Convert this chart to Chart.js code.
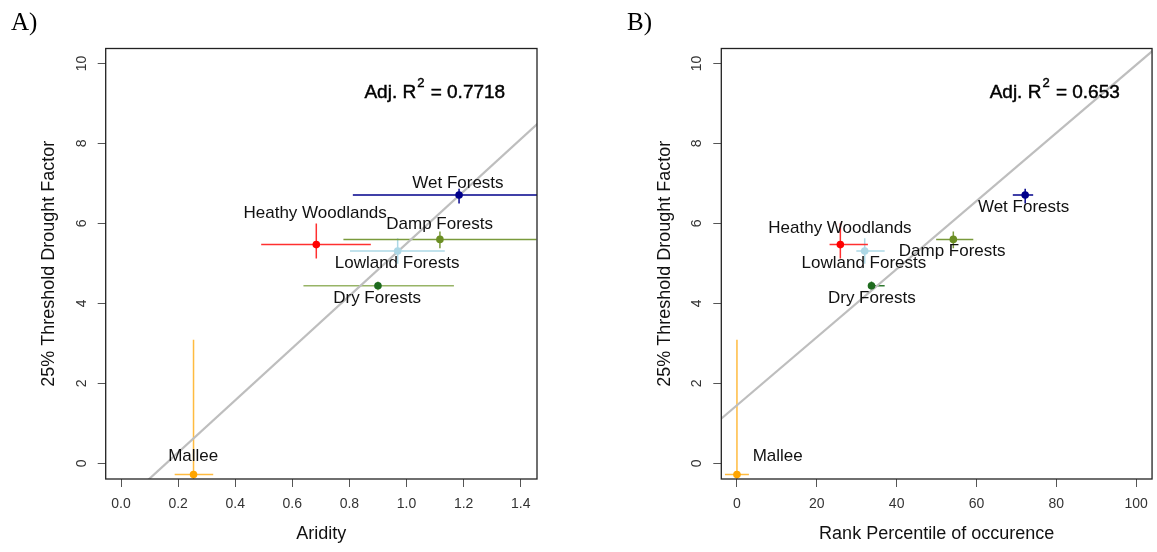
<!DOCTYPE html>
<html>
<head>
<meta charset="utf-8">
<script src="https://cdn.jsdelivr.net/npm/chart.js@4.4.1/dist/chart.umd.min.js"></script>
<style>
    html, body { margin: 0; padding: 0; background: #fff; }
    #wrap { position: relative; width: 1157px; height: 552px; }
    canvas { position: absolute; top: 0; }
</style>
</head>
<body>
<div id="wrap">
    <canvas id="chartA" style="left:0;width:578px;height:552px"></canvas>
    <canvas id="chartB" style="left:578px;width:579px;height:552px"></canvas>
</div>
<script>
// Vegetation groups, in the same order for every array below
const groups = ['Wet Forests', 'Damp Forests', 'Heathy Woodlands', 'Lowland Forests', 'Dry Forests', 'Mallee'];
const pointColors = ['#00008b', '#6b8e23', '#ff0000', '#add8e6', '#1e6b1e', '#ffa500'];
const barColorsA = ['#00008b', '#7a9a3c', '#ff3030', '#add8e6', '#97b466', '#ffbb40'];
const barColorsB = ['#00008b', '#7a9a3c', '#ff3030', '#add8e6', '#2f7a2f', '#ffbb40'];

// 25% threshold drought factor (shared y values) with error bar ends
const threshold   = [6.71, 5.60, 5.47, 5.31, 4.44, -0.28];
const thresholdLo = [6.50, 5.38, 5.12, 4.99, 4.33, -3.65];
const thresholdHi = [6.87, 5.80, 6.00, 5.63, 4.55, 3.09];

// Panel A: aridity
const aridity   = [1.184, 1.117, 0.684, 0.969, 0.900, 0.254];
const aridityLo = [0.812, 0.779, 0.491, 0.802, 0.639, 0.188];
const aridityHi = [1.556, 1.455, 0.875, 1.134, 1.166, 0.323];

// Panel B: rank percentile of occurence
const rankPct   = [72.2, 54.2, 25.9, 32.0, 33.7, 0.0];
const rankPctLo = [69.1, 49.9, 23.2, 29.9, 33.0, -3.0];
const rankPctHi = [74.2, 59.2, 32.8, 37.0, 37.0, 3.0];

// Fitted regression lines (end points, clipped by the plot box)
const fitAx = [0.05, 1.50];
const fitAy = [-0.71, 8.76];
const fitBx = [-5, 105];
const fitBy = [1.025, 10.39];

// Text label anchors (data units)
const labelXA = [1.18, 1.116, 0.68, 0.967, 0.897, 0.253];
const labelYA = [7.0, 5.97, 6.26, 4.99, 4.13, 0.185];
const labelXB = [71.8, 53.9, 25.8, 31.8, 33.8, 10.2];
const labelYB = [6.41, 5.30, 5.87, 4.99, 4.13, 0.185];

const xTicksA = [0, 0.2, 0.4, 0.6, 0.8, 1.0, 1.2, 1.4];
const xTicksB = [0, 20, 40, 60, 80, 100];
const yTicks = [0, 2, 4, 6, 8, 10];

const SANS = '"Liberation Sans", Arial, sans-serif';

function overlayPlugin(p) {
    return {
        id: 'overlay',
        afterDatasetsDraw(chart) {
            const ctx = chart.ctx;
            const xs = chart.scales.x, ys = chart.scales.y;
            ctx.save();
            ctx.fillStyle = '#111';
            ctx.font = '17px ' + SANS;
            ctx.textAlign = 'center';
            ctx.textBaseline = 'middle';
            groups.forEach((g, i) => {
                ctx.fillText(g, xs.getPixelForValue(p.labelX[i]), ys.getPixelForValue(p.labelY[i]));
            });

            // Adj. R^2 annotation, slightly heavier like the R device output
            const main1 = 'Adj. R', sup = '2', main2 = ' = ' + p.r2;
            ctx.font = '19px ' + SANS;
            const w1 = ctx.measureText(main1).width;
            const w3 = ctx.measureText(main2).width;
            ctx.font = '13px ' + SANS;
            const w2 = ctx.measureText(sup).width + 2;
            const total = w1 + w2 + w3;
            const cx = xs.getPixelForValue(p.r2x), cy = ys.getPixelForValue(p.r2y);
            const x0 = cx - total / 2;
            ctx.textAlign = 'left';
            ctx.textBaseline = 'alphabetic';
            ctx.fillStyle = '#000';
            ctx.strokeStyle = '#000';
            ctx.lineWidth = 0.45;
            ctx.font = '19px ' + SANS;
            ctx.fillText(main1, x0, cy + 7);
            ctx.strokeText(main1, x0, cy + 7);
            ctx.font = '13px ' + SANS;
            ctx.fillText(sup, x0 + w1 + 1, cy - 4);
            ctx.strokeText(sup, x0 + w1 + 1, cy - 4);
            ctx.font = '19px ' + SANS;
            ctx.fillText(main2, x0 + w1 + w2, cy + 7);
            ctx.strokeText(main2, x0 + w1 + w2, cy + 7);
            ctx.restore();
        },
        afterDraw(chart) {
            const ctx = chart.ctx;
            const a = chart.chartArea;
            const ys = chart.scales.y;
            ctx.save();
            // plot box
            ctx.strokeStyle = '#222';
            ctx.lineWidth = 1.3;
            ctx.strokeRect(a.left, a.top, a.right - a.left, a.bottom - a.top);

            // rotated y tick labels, R style
            ctx.fillStyle = '#333';
            ctx.font = '14px ' + SANS;
            ctx.textAlign = 'center';
            ctx.textBaseline = 'middle';
            ys.ticks.forEach(t => {
                ctx.save();
                ctx.translate(a.left - 24, ys.getPixelForValue(t.value));
                ctx.rotate(-Math.PI / 2);
                ctx.fillText(String(t.value), 0, 0);
                ctx.restore();
            });

            // panel letter
            ctx.fillStyle = '#000';
            ctx.font = '25px "Liberation Serif", "Times New Roman", serif';
            ctx.textAlign = 'left';
            ctx.textBaseline = 'alphabetic';
            ctx.fillText(p.panel, p.panelX, 30);
            ctx.restore();
        }
    };
}

function makePanel(canvasId, p) {
    const datasets = [];
    datasets.push({
        data: groups.map((g, i) => ({ x: p.x[i], y: threshold[i] })),
        pointBackgroundColor: pointColors,
        pointBorderWidth: 0,
        pointRadius: 3.8,
        showLine: false,
        order: 0
    });
    datasets.push({
        data: p.fitX.map((x, i) => ({ x: x, y: p.fitY[i] })),
        borderColor: '#bebebe',
        borderWidth: 2.2,
        pointRadius: 0,
        showLine: true,
        order: 1
    });
    groups.forEach((g, i) => {
        datasets.push({
            data: [{ x: p.xLo[i], y: threshold[i] }, { x: p.xHi[i], y: threshold[i] }],
            borderColor: p.barColors[i], borderWidth: 1.5, pointRadius: 0, showLine: true, order: 2
        });
        datasets.push({
            data: [{ x: p.x[i], y: thresholdLo[i] }, { x: p.x[i], y: thresholdHi[i] }],
            borderColor: p.barColors[i], borderWidth: 1.5, pointRadius: 0, showLine: true, order: 2
        });
    });

    return new Chart(document.getElementById(canvasId), {
        type: 'scatter',
        data: { datasets: datasets },
        options: {
            responsive: false,
            animation: false,
            events: [],
            layout: { padding: { left: 0, top: 48.5, right: p.padRight, bottom: 0 } },
            plugins: { legend: { display: false }, tooltip: { enabled: false } },
            scales: {
                x: {
                    type: 'linear',
                    min: p.xMin, max: p.xMax,
                    afterBuildTicks: s => { s.ticks = p.xTicks.map(v => ({ value: v })); },
                    afterFit: s => { s.height = 73; },
                    border: { display: false },
                    grid: { drawOnChartArea: false, drawTicks: true, tickLength: 8, tickColor: '#555', lineWidth: 1 },
                    ticks: {
                        color: '#333', font: { family: SANS, size: 14 }, padding: 9,
                        maxRotation: 0, autoSkip: false,
                        callback: v => p.tickFmt(v)
                    },
                    title: {
                        display: true, text: p.xTitle, color: '#111',
                        font: { family: SANS, size: 18 }, padding: { top: 0, bottom: 7 }
                    }
                },
                y: {
                    type: 'linear',
                    min: -0.393, max: 10.375,
                    afterBuildTicks: s => { s.ticks = yTicks.map(v => ({ value: v })); },
                    afterFit: s => { s.width = p.yWidth; },
                    border: { display: false },
                    grid: { drawOnChartArea: false, drawTicks: true, tickLength: 8, tickColor: '#555', lineWidth: 1 },
                    ticks: { color: 'rgba(0,0,0,0)', font: { family: SANS, size: 14 }, padding: 6 },
                    title: {
                        display: true, text: '25% Threshold Drought Factor', color: '#111',
                        font: { family: SANS, size: 18 }, padding: { top: p.yTitlePad, bottom: 0 }
                    }
                }
            }
        },
        plugins: [overlayPlugin(p)]
    });
}

document.getElementById('chartA').width = 578;
document.getElementById('chartA').height = 552;
document.getElementById('chartB').width = 579;
document.getElementById('chartB').height = 552;

makePanel('chartA', {
    panel: 'A)', panelX: 11,
    x: aridity, xLo: aridityLo, xHi: aridityHi,
    fitX: fitAx, fitY: fitAy,
    labelX: labelXA, labelY: labelYA,
    barColors: barColorsA,
    xMin: -0.0536, xMax: 1.457, xTicks: xTicksA,
    tickFmt: v => v.toFixed(1),
    xTitle: 'Aridity',
    r2: '0.7718', r2x: 1.099, r2y: 9.32,
    yWidth: 105.7, yTitlePad: 38, padRight: 41
});

makePanel('chartB', {
    panel: 'B)', panelX: 49,
    x: rankPct, xLo: rankPctLo, xHi: rankPctHi,
    fitX: fitBx, fitY: fitBy,
    labelX: labelXB, labelY: labelYB,
    barColors: barColorsB,
    xMin: -3.92, xMax: 103.98, xTicks: xTicksB,
    tickFmt: v => String(v),
    xTitle: 'Rank Percentile of occurence',
    r2: '0.653', r2x: 79.6, r2y: 9.32,
    yWidth: 143.3, yTitlePad: 76, padRight: 4.3
});
</script>
</body>
</html>
